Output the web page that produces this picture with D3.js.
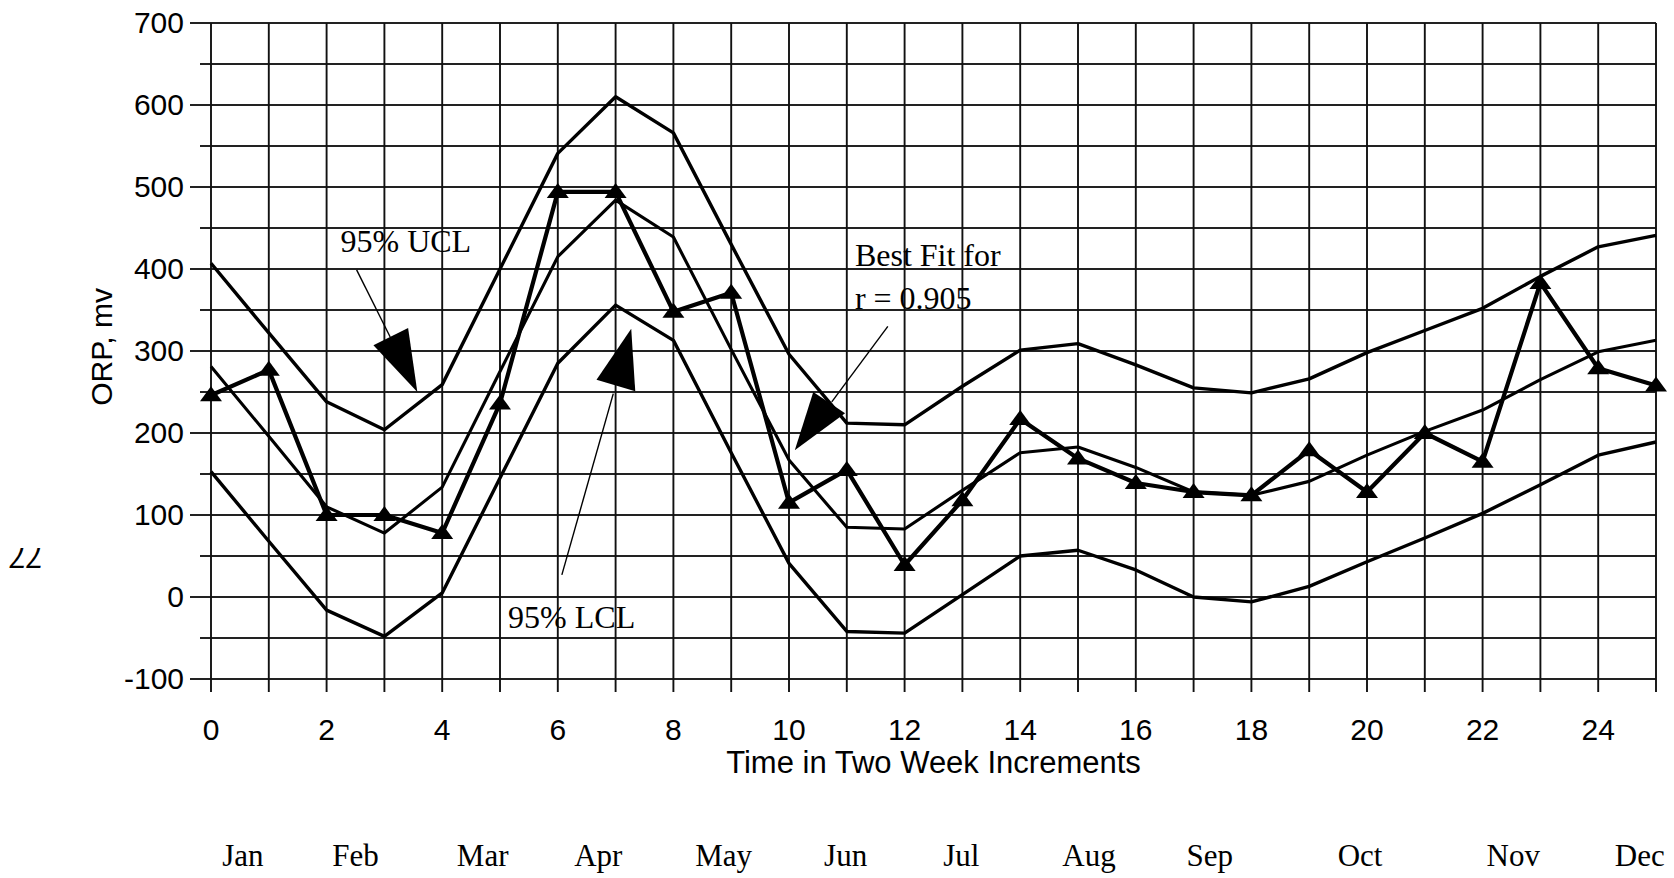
<!DOCTYPE html>
<html>
<head>
<meta charset="utf-8">
<script src="https://cdn.jsdelivr.net/npm/d3@7"></script>
<style>
  body { margin: 0; background: #fff; }
  svg { display: block; }
</style>
</head>
<body>
<svg class="plot" width="1674" height="878"></svg>
<script>
// time in two week increments
const steps = d3.range(0, 26)

const observed = [246, 277, 100, 100, 78, 236, 494, 494, 348, 371, 115, 155, 39, 118, 217, 169, 139, 128, 124, 179, 128, 200, 165, 383, 279, 258]
const bestFit  = [281, 196, 110, 78, 134, 275, 415, 484, 439, 302, 167, 85, 83, 130, 176, 183, 158, 128, 124, 141, 173, 202, 228, 265, 299, 313]
const ucl      = [407, 322, 238, 204, 259, 400, 541, 610, 566, 430, 296, 212, 210, 257, 301, 309, 283, 255, 249, 266, 298, 325, 352, 391, 427, 441]
const lcl      = [153, 68, -16, -48, 5, 145, 285, 356, 313, 176, 41, -42, -44, 3, 50, 57, 33, 0, -6, 13, 43, 72, 102, 137, 173, 189]

const xTicks = d3.range(0, 26, 2)
const yTicks = d3.range(-100, 701, 100)

const months = ["Jan", "Feb", "Mar", "Apr", "May", "Jun", "Jul", "Aug", "Sep", "Oct", "Nov", "Dec"]
const monthAt = [0.55, 2.5, 4.7, 6.7, 8.87, 10.98, 12.98, 15.19, 17.28, 19.88, 22.53, 24.72]

// annotation callouts, in data units (increment, mv)
const callouts = [
  { text: ["95% UCL"], at: [2.24, 421], head: [[2.81, 307], [3.41, 328], [3.57, 250]], lead: [[2.52, 399], [3.10, 317]] },
  { text: ["95% LCL"], at: [5.14, -38], head: [[6.67, 265], [7.27, 327], [7.34, 251]], lead: [[6.96, 248], [6.07, 27]] },
  { text: ["Best Fit for", "r = 0.905"], at: [11.14, 404], head: [[10.10, 179], [10.42, 250], [10.97, 224]], lead: [[11.71, 330], [10.74, 238]] }
]

const svg = d3.select(".plot")

const x = d3.scaleLinear().domain([0, 25]).range([211, 1656])
const y = d3.scaleLinear().domain([-100, 700]).range([679, 23])

const sans = "'Liberation Sans', Arial, sans-serif"
const serif = "'Liberation Serif', 'Times New Roman', serif"

// grid
const grid = svg.append("g")
grid.selectAll(".hg")
  .data(d3.range(-100, 701, 50))
  .enter().append("line")
  .attr("x1", d => d % 100 === 0 ? 190 : 200)
  .attr("x2", x(25))
  .attr("y1", d => y(d))
  .attr("y2", d => y(d))
  .attr("stroke", "#222")
  .attr("stroke-width", 2)

grid.selectAll(".vg")
  .data(steps)
  .enter().append("line")
  .attr("x1", d => x(d))
  .attr("x2", d => x(d))
  .attr("y1", y(700))
  .attr("y2", y(-100) + 13)
  .attr("stroke", "#111")
  .attr("stroke-width", 1.9)

// y axis labels
svg.append("g")
  .selectAll("text")
  .data(yTicks)
  .enter().append("text")
  .attr("x", 184)
  .attr("y", d => y(d) + 10)
  .attr("text-anchor", "end")
  .style("font-family", sans)
  .style("font-size", "30px")
  .text(d => d)

// x axis labels
svg.append("g")
  .selectAll("text")
  .data(xTicks)
  .enter().append("text")
  .attr("x", d => x(d))
  .attr("y", 740)
  .attr("text-anchor", "middle")
  .style("font-family", sans)
  .style("font-size", "30px")
  .text(d => d)

svg.append("text")
  .attr("x", (x(0) + x(25)) / 2)
  .attr("y", 773)
  .attr("text-anchor", "middle")
  .style("font-family", sans)
  .style("font-size", "31px")
  .text("Time in Two Week Increments")

svg.append("text")
  .attr("transform", `translate(112,${y(305)}) rotate(-90)`)
  .attr("text-anchor", "middle")
  .style("font-family", sans)
  .style("font-size", "30px")
  .text("ORP, mv")

svg.append("text")
  .attr("transform", `translate(27,${y(60)}) rotate(180)`)
  .attr("text-anchor", "middle")
  .style("font-family", sans)
  .style("font-style", "italic")
  .style("font-size", "30px")
  .text("77")

// months
svg.append("g")
  .selectAll("text")
  .data(months)
  .enter().append("text")
  .attr("x", (d, i) => x(monthAt[i]))
  .attr("y", 866)
  .attr("text-anchor", "middle")
  .style("font-family", serif)
  .style("font-size", "31px")
  .text(d => d)

// series
const line = d3.line()
  .x((d, i) => x(steps[i]))
  .y(d => y(d))

const series = [
  { data: ucl, w: 3.4 },
  { data: lcl, w: 3.4 },
  { data: bestFit, w: 3.1 },
  { data: observed, w: 4.2 }
]

svg.append("g")
  .selectAll("path")
  .data(series)
  .enter().append("path")
  .attr("fill", "none")
  .attr("stroke", "#000")
  .attr("stroke-linejoin", "round")
  .attr("stroke-width", d => d.w)
  .attr("d", d => line(d.data))

// triangle markers
svg.append("g")
  .selectAll("path")
  .data(observed)
  .enter().append("path")
  .attr("transform", (d, i) => `translate(${x(steps[i])},${y(d)})`)
  .attr("d", "M0,-9 L11,6 L-11,6 Z")
  .attr("fill", "#000")

// callouts
const notes = svg.append("g")
callouts.forEach(c => {
  notes.append("line")
    .attr("x1", x(c.lead[0][0]))
    .attr("y1", y(c.lead[0][1]))
    .attr("x2", x(c.lead[1][0]))
    .attr("y2", y(c.lead[1][1]))
    .attr("stroke", "#000")
    .attr("stroke-width", 1.4)

  notes.append("path")
    .attr("d", "M" + c.head.map(p => x(p[0]) + "," + y(p[1])).join("L") + "Z")
    .attr("fill", "#000")

  c.text.forEach((t, i) => {
    notes.append("text")
      .attr("x", x(c.at[0]))
      .attr("y", y(c.at[1]) + i * 43)
      .style("font-family", serif)
      .style("font-size", "32px")
      .text(t)
  })
})
</script>
</body>
</html>
